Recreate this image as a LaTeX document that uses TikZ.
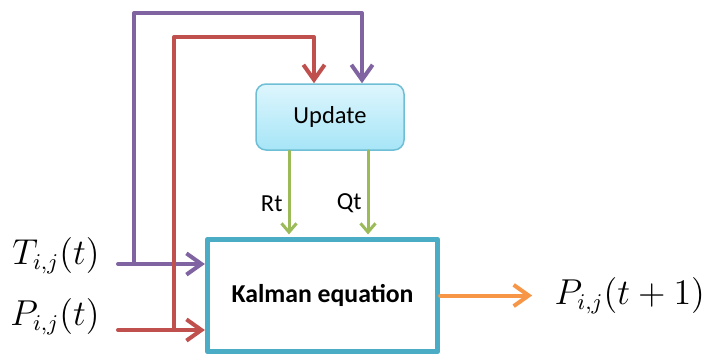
\documentclass[tikz,border=0pt]{standalone}
\usepackage{amsmath}
\usepackage{fontspec}
\setsansfont{Carlito}
\usetikzlibrary{arrows.meta,positioning}

\definecolor{kalmanblue}{RGB}{75,172,198}
\definecolor{updateedge}{RGB}{110,190,214}
\definecolor{updatetop}{RGB}{222,246,253}
\definecolor{updatebot}{RGB}{166,229,247}
\definecolor{tpurple}{RGB}{128,100,162}
\definecolor{pred}{RGB}{192,80,77}
\definecolor{rqgreen}{RGB}{155,187,89}
\definecolor{outorange}{RGB}{247,150,70}

\tikzset{
  feed/.style={line width=1.6pt,->},
  rqline/.style={line width=1.2pt,rqgreen,-{Straight Barb[length=3.5pt,width=6pt]},shorten >=1pt},
  mathlbl/.style={inner sep=0pt,font=\fontsize{13.3}{16}\selectfont},
  sidelbl/.style={inner sep=2pt,text=black,font=\sffamily\fontsize{9.8}{11}\selectfont}
}

\begin{document}
\begin{tikzpicture}[line cap=round,line join=round,>={Straight Barb[length=6pt,width=8.5pt]},x=0.4pt,y=0.4pt]
  \useasboundingbox (0,0) rectangle (706,356);
  % blocks
  \node[draw=kalmanblue,line width=2.1pt,fill=white,minimum width=92pt,minimum height=44.8pt,font=\sffamily\bfseries\fontsize{10.3}{12}\selectfont] (kalman) at (322.5,60.5) {Kalman equation};
  \node[draw=updateedge,line width=0.6pt,rounded corners=4pt,top color=updatetop,bottom color=updatebot,minimum width=59.2pt,minimum height=26.4pt,font=\sffamily\fontsize{9.8}{11}\selectfont] (update) at (330,239) {Update};
  % inputs
  \coordinate (tin) at (118,92);
  \coordinate (tjoin) at (134,92);
  \coordinate (ttop) at (134,343);
  \coordinate (pin) at (118,26);
  \coordinate (pjoin) at (174,26);
  \coordinate (ptop) at (174,319);
  \node[mathlbl,anchor=base east] (tlbl) at ([xshift=-7.2pt]tin) {$T_{i,j}(t)$};
  \node[mathlbl,anchor=base east] (plbl) at ([xshift=-7.2pt,yshift=2pt]pin) {$P_{i,j}(t)$};
  \draw[feed,tpurple] (tin) -- (tin -| kalman.west);
  \draw[feed,tpurple] (tjoin) -- (ttop) -| ([xshift=12.8pt]update.north);
  \draw[feed,pred] (pin) -- (pin -| kalman.west);
  \draw[feed,pred] (pjoin) -- (ptop) -| ([xshift=-6.4pt]update.north);
  % noise terms
  \draw[rqline] ([xshift=-16.4pt]update.south) -- node[sidelbl,left,pos=0.61] (rt) {Rt} ([xshift=-16.4pt]update.south |- kalman.north);
  \draw[rqline] ([xshift=15.2pt]update.south) -- node[sidelbl,left,pos=0.61] (qt) {Qt} ([xshift=15.2pt]update.south |- kalman.north);
  % output
  \coordinate[right=92 of kalman.east] (pout);
  \draw[feed,outorange] (kalman.east) -- (pout);
  \node[mathlbl,right=22 of pout] (pnext) {$P_{i,j}(t+1)$};
\end{tikzpicture}
\end{document}
